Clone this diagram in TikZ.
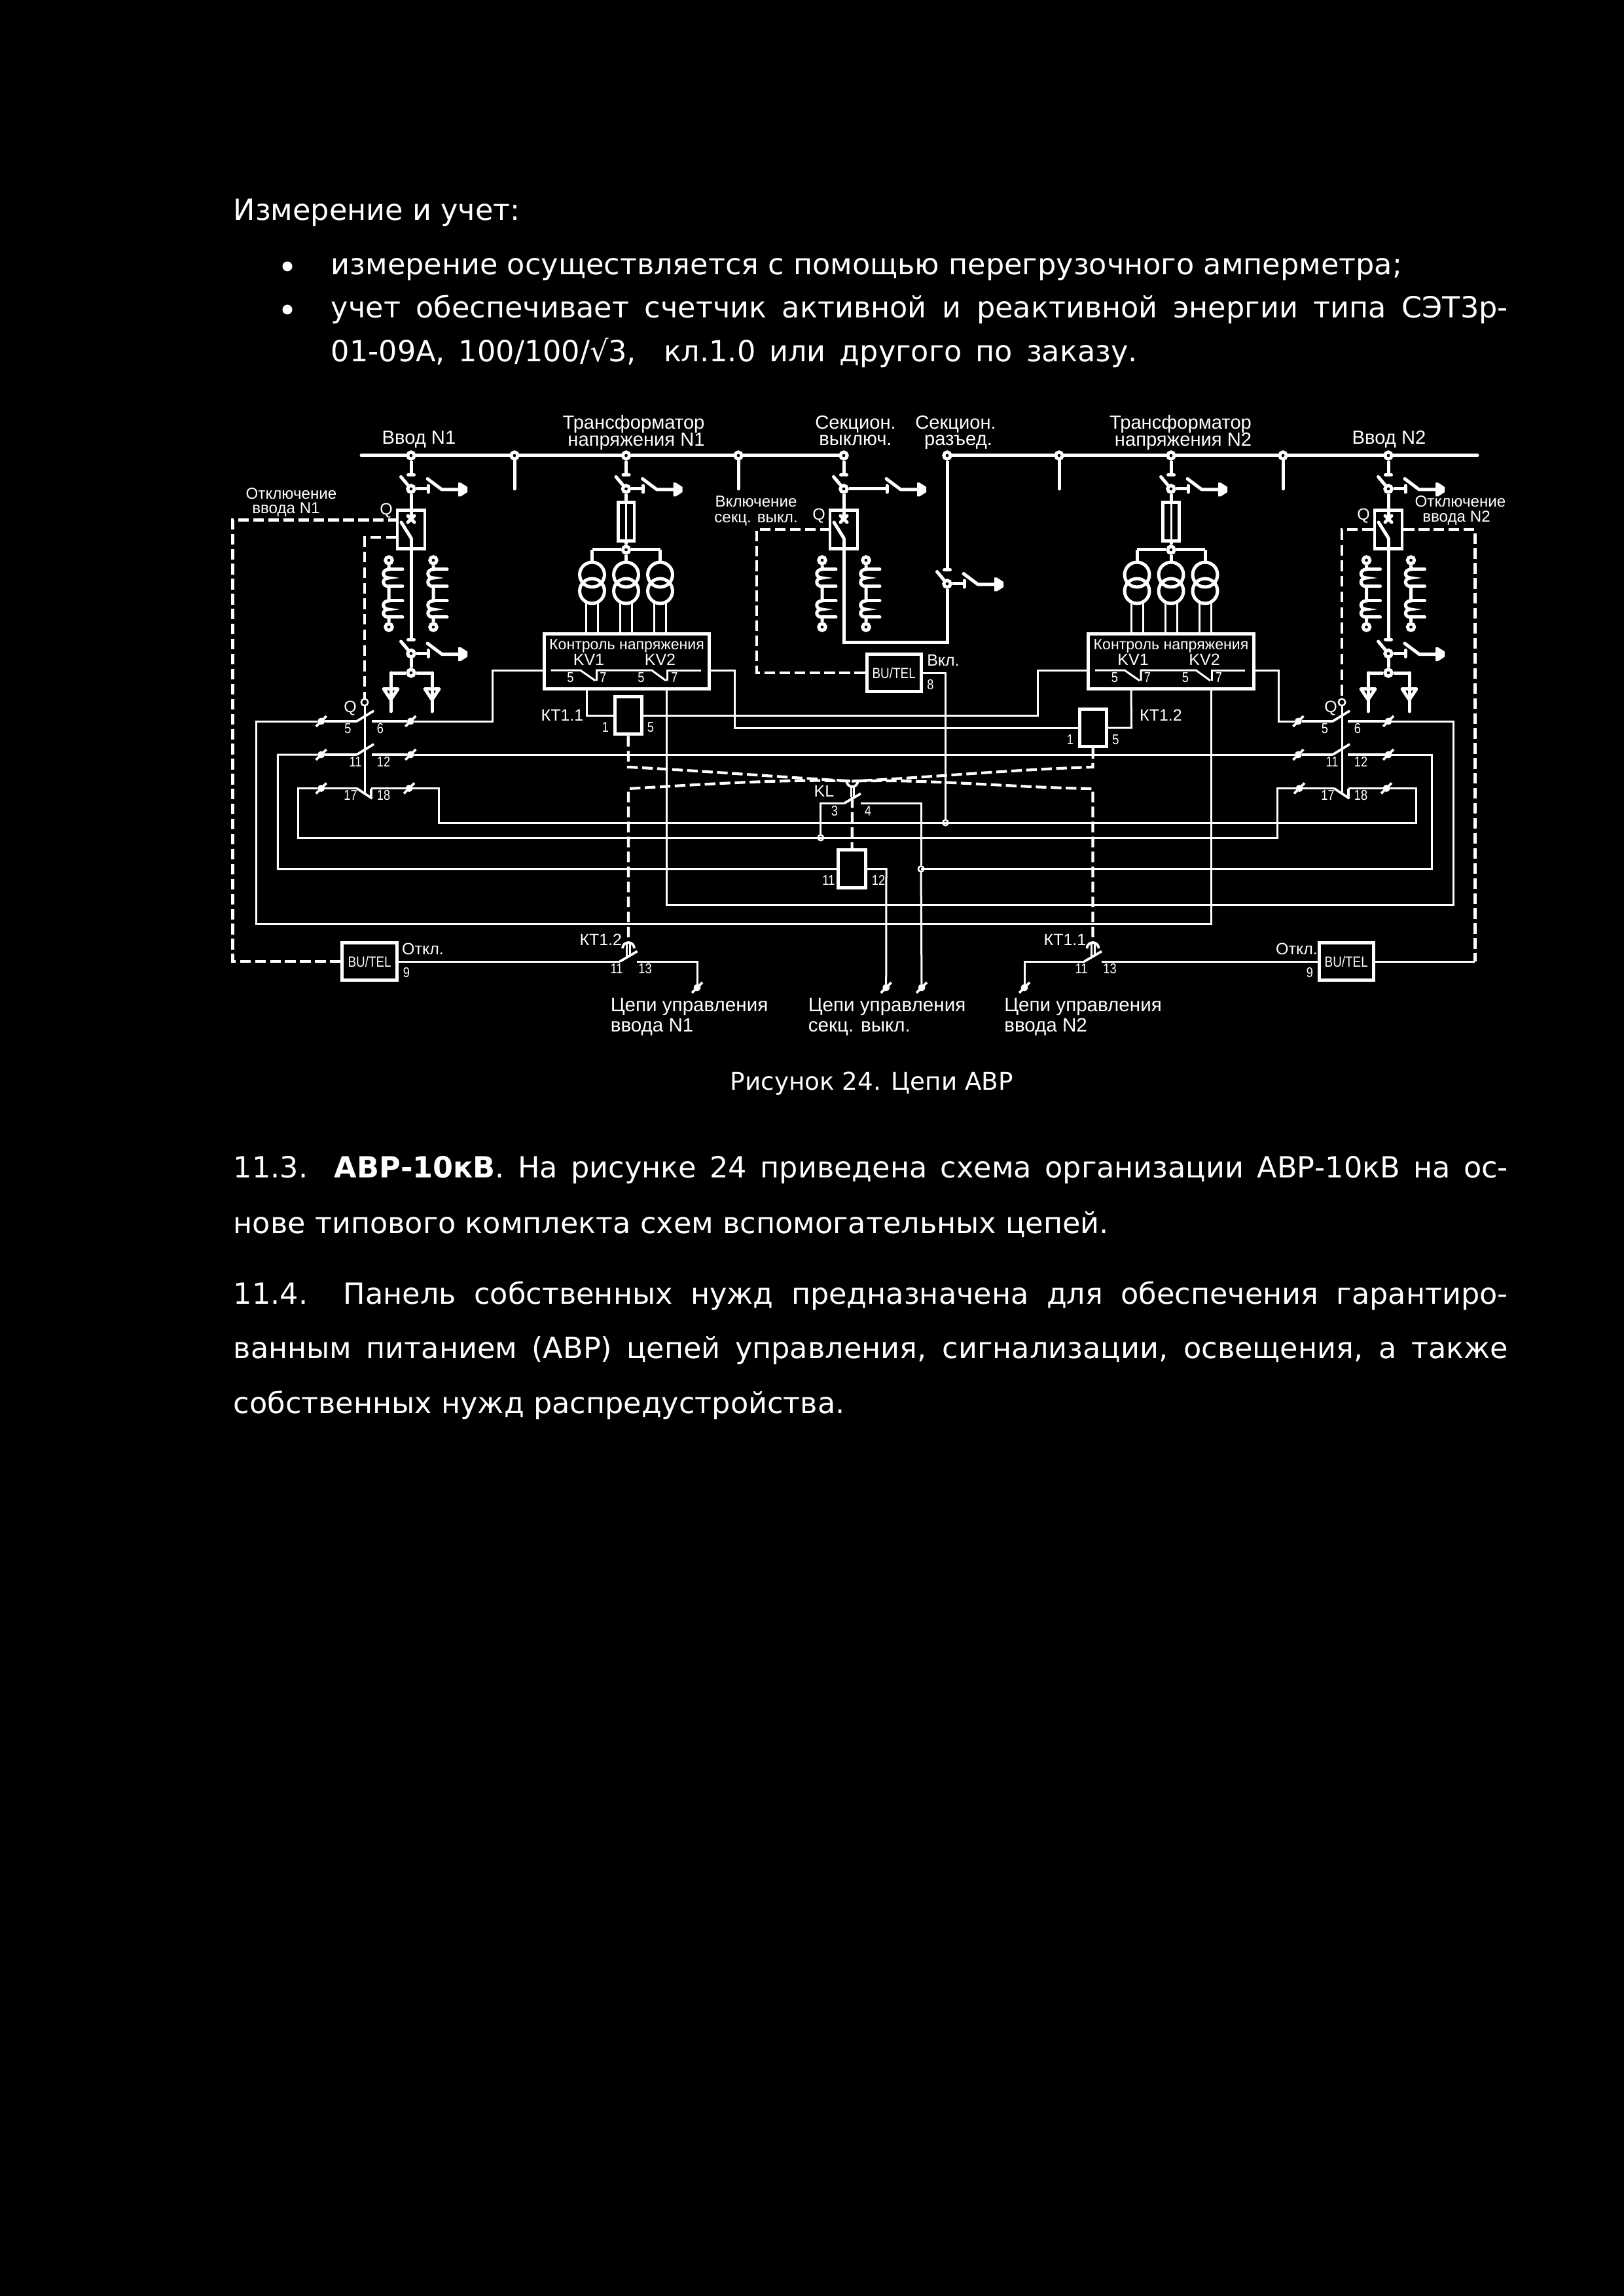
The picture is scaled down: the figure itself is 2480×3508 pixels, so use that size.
\documentclass[tikz,border=0pt]{standalone}
\usepackage{fontspec}
\usetikzlibrary{positioning, calc}
\setmainfont{Liberation Sans}
\newfontfamily\bodyfam{DejaVu Sans}
\newfontfamily\numfam[FakeStretch=0.84]{Liberation Sans}

\newcommand{\discon}[4]{
	\coordinate (#1bar) at (#2,#3);
	\node[jnct] (#1j) at (#2,#3+21.5) {};
	\coordinate (#1end) at (#2+26+#4,#3+21.5);
	\draw[heavy, line cap=round] (#2-4.5,#3) -- (#2+4.5,#3);
	\draw[heavy, line cap=round] (#2-15.5,#3+3) -- (#1j);
	\draw[heavy] (#1j) -- (#1end);
	\draw[heavy, line cap=round] (#2+26+#4,#3+16.5) -- (#2+26+#4,#3+26.5);
	\draw[heavy, line cap=round] (#2+25+#4,#3+6) -- (#2+47+#4,#3+22.5) -- (#2+74+#4,#3+22.5);
	\fill (#2+72+#4,#3+12) -- (#2+76+#4,#3+12) -- (#2+86+#4,#3+18.5) -- (#2+86+#4,#3+26.5) -- (#2+76+#4,#3+33) -- (#2+72+#4,#3+33) -- cycle;
}
\newcommand{\qbreaker}[2]{
	\node[qbox] (#1) at (#2,809) {};
	\coordinate (#1in) at (#2,793);
	\coordinate (#1out) at (#2,822);
	\draw[heavy, line cap=round] (#2-5,788) -- (#2+5,798);
	\draw[heavy, line cap=round] (#2-5,798) -- (#2+5,788);
	\draw[heavy, line cap=round] (#2-15,798) -- (#1out);
}
\newcommand{\ctcoil}[2]{
	\node[jnct] (#1a) at (#2,856) {};
	\node[jnct] (#1b) at (#2,958) {};
	\draw[coil] (#1a) -- (#2,870) .. controls (#2-11,870) and (#2-11,883) .. (#2,883) .. controls (#2-11,883) and (#2-11,896) .. (#2,896) -- (#2,918) .. controls (#2-11,918) and (#2-11,931) .. (#2,931) .. controls (#2-11,931) and (#2-11,943) .. (#2,943) -- (#1b);
	\foreach \y in {870,896,918,943}
		\draw[coil, line cap=round] (#2,\y) -- (#2+21,\y);
}
\newcommand{\outarrow}[1]{
	\draw[heavy, line cap=round] (#1,1028) -- (#1,1087);
	\draw[heavy, line join=round] (#1-11,1052.5) -- (#1+11,1052.5) -- (#1,1069) -- cycle;
}
\newcommand{\vtrans}[2]{
	\node[fuse] (#1f) at (#2,797) {};
	\node[jnct] (#1j) at (#2,840) {};
	\coordinate (#1l) at (#2-52,840);
	\coordinate (#1r) at (#2+52,840);
	\draw[wire] (#1f.north) -- (#1f.south);
	\draw[heavy] (#1f) -- (#1j);
	\foreach \n/\d in {a/-52,b/0,c/52} {
		\node[vcoil] (#1\n u) at (#2+\d,878) {};
		\node[vcoil] (#1\n d) at (#2+\d,903) {};
		\foreach \s in {-9,9}
			\draw[wire] (#2+\d+\s,921) -- (#2+\d+\s,968);
	}
	\draw[heavy] (#1l) -- (#1j);
	\draw[heavy] (#1j) -- (#1r);
	\draw[heavy] (#1l) -- (#1au.north);
	\draw[heavy] (#1r) -- (#1cu.north);
	\draw[heavy] (#1j) -- (#1bu.north);
}
\newcommand{\ctrlbox}[2]{
	\node[cbox] (#1) at (#2,1010.5) {};
	\coordinate (#1w) at (#2-128.5,1024);
	\coordinate (#1e) at (#2+128.5,1024);
	\coordinate (#1sl) at (#2-61,1055);
	\coordinate (#1sr) at (#2+61,1055);
	\node[lbls, font=\fontsize{5.55}{7}\selectfont] (#1t) at (#2,984) {Контроль напряжения};
	\node[lbls] (#1kva) at (#2-58,1008) {KV1};
	\node[lbls] (#1kvb) at (#2+51,1008) {KV2};
	\draw[wire] (#2-116,1024) -- (#2-71,1024) -- (#2-48,1040);
	\draw[wire] (#2-46,1040) -- (#2-46,1024) -- (#2+38,1024) -- (#2+60,1040);
	\draw[wire] (#2+62,1040) -- (#2+62,1024) -- (#2+113,1024);
	\foreach \d/\t in {-86/5,-36/7,22/5,73/7}
		\node[numb] (#1n\t\d) at (#2+\d,1035) {\t};
}
\newcommand{\tcontact}[2]{
	\coordinate (#1l) at (#2-13,1469);
	\coordinate (#1r) at (#2+13,1469);
	\coordinate (#1top) at (#2,1432);
	\draw[mid] (#2-9,1449) arc[start angle=180, end angle=360, radius=9];
	\draw[wire] (#2-2.5,1440) -- (#2-2.5,1461);
	\draw[wire] (#2+2.5,1440) -- (#2+2.5,1461);
	\draw[mid] (#1l) -- (#2+13.5,1453.5);
}

\begin{document}
\begin{tikzpicture}[
		x=0.24pt, y=-0.24pt, color=white,
		heavy/.style={line width=1.2pt},
		wire/.style={line width=0.72pt},
		mid/.style={line width=0.9pt},
		coil/.style={line width=1.2pt},
		dashbig/.style={line width=1pt, dash pattern=on 3.9pt off 1.6pt},
		dashsmall/.style={line width=0.75pt, dash pattern=on 3.9pt off 1.8pt},
		jnct/.style={circle, draw, fill=black, line width=1.2pt, inner sep=0pt, minimum size=2.5pt},
		dotj/.style={circle, draw, fill=black, line width=0.6pt, inner sep=0pt, minimum size=2pt},
		qcirc/.style={circle, draw, line width=0.6pt, inner sep=0pt, minimum size=2.5pt},
		term/.style={circle, draw, fill=black, line width=0.95pt, inner sep=0pt, minimum size=1.6pt},
		qbox/.style={rectangle, draw, line width=1.1pt, inner sep=0pt, minimum width=10.1pt, minimum height=14.2pt},
		fuse/.style={rectangle, draw, line width=1.1pt, inner sep=0pt, minimum width=5.9pt, minimum height=14.2pt},
		vcoil/.style={circle, draw, line width=1.2pt, inner sep=0pt, minimum size=9.1pt},
		cbox/.style={rectangle, draw, line width=1.2pt, inner sep=0pt, minimum width=60.6pt, minimum height=20.2pt},
		relay/.style={rectangle, draw, line width=1.2pt, inner sep=0pt, minimum width=9.9pt, minimum height=13.7pt},
		butel/.style={rectangle, draw, line width=1.2pt, inner sep=0pt, minimum width=20pt, minimum height=13.8pt, font=\numfam\fontsize{5.4}{6}\selectfont},
		lbl/.style={inner sep=0pt, text height=5pt, text depth=0pt, font=\fontsize{7}{8}\selectfont},
		lbls/.style={inner sep=0pt, text height=4.3pt, text depth=0pt, font=\fontsize{6}{7}\selectfont},
		lblo/.style={inner sep=0pt, text height=4.2pt, text depth=0pt, font=\fontsize{5.8}{7}\selectfont},
		numb/.style={inner sep=0pt, text height=3.7pt, text depth=0pt, font=\numfam\fontsize{5.2}{6}\selectfont},
		bodyl/.style={anchor=base west, inner sep=0pt, font=\bodyfam\fontsize{10.7}{13}\selectfont},
		capl/.style={anchor=base west, inner sep=0pt, font=\bodyfam\fontsize{8.95}{12}\selectfont}
	]

	\useasboundingbox (0,0) rectangle (2480,3508);
	\fill[black] (-20,-20) rectangle (2500,3528);

	% text above and below the scheme
	\foreach \x/\y/\t [count=\i] in {
		356/337/{Измерение и учет:},
		505/420/{измерение осуществляется с помощью перегрузочного амперметра;},
		356/1884/{нове типового комплекта схем вспомогательных цепей.},
		356/2159/{собственных нужд распредустройства.}}
		\node[bodyl] (para\i) at (\x,\y) {\t};
	\node[bodyl] (para5) at (505,553) {\makebox[295.7pt][s]{01-09А, 100/100/√3,\ \ кл.1.0 или другого по заказу.}};
	\node[bodyl] (para6) at (505,486) {\makebox[431.5pt][s]{учет обеспечивает счетчик активной и реактивной энергии типа СЭТ3р-}};
	\node[bodyl] (para7) at (356,1799) {\makebox[467.3pt][s]{11.3.\ \ {\bfseries АВР-10кВ}. На рисунке 24 приведена схема организации АВР-10кВ на ос-}};
	\node[bodyl] (para8) at (356,1992) {\makebox[467.3pt][s]{11.4.\ \ Панель собственных нужд предназначена для обеспечения гарантиро-}};
	\node[bodyl] (para9) at (356,2075) {\makebox[467.3pt][s]{ванным питанием (АВР) цепей управления, сигнализации, освещения, а также}};
	\node[capl] (caption) at (1115,1665) {Рисунок 24. Цепи АВР};
	\foreach \y [count=\i] in {407,473}
		\fill (439,\y) circle[radius=7.5];

	% busbars
	\coordinate (busl) at (552,696);
	\coordinate (busr) at (2257,696);
	\foreach \n/\x in {jina/628, jcab/786, jtva/956.5, jcbc/1128, jsv/1289, jsr/1447, jccd/1618, jtvb/1789, jcde/1960, jinb/2121}
		\node[jnct] (\n) at (\x,696) {};
	\foreach \i/\j in {busl/jina, jina/jcab, jcab/jtva, jtva/jcbc, jcbc/jsv, jsr/jccd, jccd/jtvb, jtvb/jcde, jcde/jinb, jinb/busr}
		\draw[heavy, line cap=round] (\i) -- (\j);
	\foreach \n/\x in {jcab/786, jcbc/1128, jccd/1618, jcde/1960} {
		\coordinate (\n e) at (\x,747);
		\draw[heavy, line cap=round] (\n) -- (\n e);
	}

	% disconnectors, breakers, current transformers
	\discon{dia}{628}{725.5}{0}
	\discon{dib}{628}{977}{0}
	\discon{dic}{2121}{725.5}{0}
	\discon{did}{2121}{977}{0}
	\discon{dis}{1289}{725.5}{40}
	\discon{dir}{1447}{870.5}{0}
	\discon{dit}{956.5}{725.5}{0}
	\discon{diu}{1789}{725.5}{0}
	\foreach \i/\j in {jina/diabar, jinb/dicbar, jsv/disbar, jsr/dirbar, jtva/ditbar, jtvb/diubar}
		\draw[heavy] (\i) -- (\j);

	\qbreaker{qa}{628}
	\qbreaker{qs}{1289}
	\qbreaker{qb}{2121}
	\foreach \i/\j in {diaj/qain, qaout/dibbar, dicj/qbin, qbout/didbar, disj/qsin}
		\draw[heavy] (\i) -- (\j);
	\coordinate (scl) at (1289,981.5);
	\coordinate (srl) at (1447,981.5);
	\draw[heavy] (qsout) -- (scl) -- (srl) -- (dirj);

	\foreach \n/\x in {cta/594, ctb/662, ctc/1256, ctd/1323, cte/2087.5, ctf/2155.5} {
		\ctcoil{\n}{\x}
	}

	\foreach \n/\m/\x in {oja/dibj/628, ojb/didj/2121} {
		\node[jnct] (\n) at (\x,1028) {};
		\draw[heavy] (\m) -- (\n);
		\draw[heavy] (\n) -- (\x-31,1028);
		\draw[heavy] (\n) -- (\x+32,1028);
		\outarrow{\x-31}
		\outarrow{\x+32}
	}

	% voltage transformers and control boxes
	\vtrans{tva}{956.5}
	\vtrans{tvb}{1789}
	\foreach \i/\j in {ditj/tvaf, diuj/tvbf}
		\draw[heavy] (\i) -- (\j);
	\ctrlbox{cva}{957.5}
	\ctrlbox{cvb}{1789}

	% relays and units
	\node[relay] (kta) at (959.7,1093.3) {};
	\node[relay] (ktb) at (1669.7,1112) {};
	\node[relay, minimum height=14pt] (klc) at (1301.6,1327.7) {};
	\node[butel] (bua) at (564.6,1469) {BU/TEL};
	\node[butel] (bus) at (1365.7,1028) {BU/TEL};
	\node[butel] (bub) at (2056.7,1469) {BU/TEL};

	% terminals
	\foreach \n/\x/\y in {tla/490.7/1102, tlb/627.3/1102, tlc/490.7/1153, tld/627.3/1153, tle/490.7/1204.5, tlf/625/1204.5, tra/1983.4/1102, trb/2121/1102, trc/1983.4/1153, trd/2121/1153, tre/1985/1204.5, trf/2118/1204.5, tca/1065/1509, tcb/1353.7/1509, tcc/1408/1509, tcd/1565/1509} {
		\node[term] (\n) at (\x,\y) {};
		\draw[mid] ([shift={(-8,8)}]\n.center) -- ([shift={(8,-8)}]\n.center);
	}

	% auxiliary contacts of Q
	\foreach \n/\x/\y in {qma/545/1102, qna/545/1153, qmb/2036/1102, qnb/2036/1153} {
		\coordinate (\n l) at (\x,\y);
		\coordinate (\n r) at (\x+23,\y);
		\draw[mid] (\n l) -- (\x+26,\y-16);
	}
	\foreach \n/\x/\y in {qoa/545/1204.5, qob/2038/1204.5} {
		\coordinate (\n l) at (\x,\y);
		\coordinate (\n r) at (\x+22,\y);
		\draw[mid] (\n l) -- (\x+23.5,\y+15.5);
		\draw[mid] (\n r) -- (\x+22,\y+12);
	}
	\foreach \i/\j in {tla/qmal, tlb/qmar, tlc/qnal, tld/qnar, tle/qoal, tlf/qoar, tra/qmbl, trb/qmbr, trc/qnbl, trd/qnbr, tre/qobl, trf/qobr}
		\draw[mid] (\i) -- (\j);

	\node[qcirc] (qca) at (557,1073) {};
	\node[qcirc] (qcb) at (2050,1073) {};
	\coordinate (qea) at (557,1212);
	\coordinate (qeb) at (2050,1212);
	\foreach \i/\j in {qca/qea, qcb/qeb}
		\draw[wire] (\i) -- (\j);

	% contact of KL and time contacts
	\coordinate (kcup) at (1302,1193.5);
	\coordinate (kll) at (1289.4,1227.5);
	\coordinate (klr) at (1315,1227.5);
	\draw[mid] (1293.5,1193.5) arc[start angle=180, end angle=0, radius=8.5];
	\draw[wire] (1300,1202) -- (1300,1218);
	\draw[wire] (1304,1202) -- (1304,1218);
	\draw[mid] (kll) -- (1315,1212.5);
	\tcontact{kma}{960}
	\tcontact{kmb}{1669.5}

	\node[dotj] (jka) at (1253.8,1280) {};
	\node[dotj] (jkb) at (1444.4,1257) {};
	\node[dotj] (jkc) at (1407,1327.5) {};

	% control wiring
	\draw[wire] (tla) -- (391,1102) -- (391,1411) -- (1850,1411) -- (cvbsr);
	\draw[wire] (tlb) -- (752.6,1102) -- (752.6,1024) -- (cvaw);
	\draw[wire] (cvasl) -- (896.5,1093.3) -- (kta.west);
	\draw[wire] (kta.east) -- (1585,1093.3) -- (1585,1024) -- (cvbw);
	\draw[wire] (cvae) -- (1122,1024) -- (1122,1112) -- (ktb.west);
	\draw[wire] (ktb.east) -- (1728.5,1112) -- (cvbsl);
	\draw[wire] (cvasr) -- (1018.5,1382.5) -- (2220.7,1382.5) -- (2220.7,1102) -- (trb);
	\draw[wire] (tld) -- (trc);
	\draw[wire] (tlc) -- (424.4,1153) -- (424.4,1327.5) -- (klc.west);
	\draw[wire] (klc.east) -- (1354,1327.7) -- (tcb);
	\draw[wire] (trd) -- (2187.7,1153) -- (2187.7,1327.5) -- (jkc.center);
	\draw[wire] (klr) -- (1407,1227.5) -- (jkc);
	\draw[wire] (jkc) -- (tcc);
	\draw[wire] (tle) -- (455,1204.5) -- (455,1280) -- (1951,1280) -- (1951,1204.5) -- (tre);
	\draw[wire] (jka) -- (1253.8,1227.5) -- (kll);
	\draw[wire] (tlf) -- (670,1204.5) -- (670,1257) -- (2163.4,1257) -- (2163.4,1204.5) -- (trf);
	\draw[wire] (bus.east) -- (1444.4,1028) -- (jkb);
	\draw[wire] (cvbe) -- (1953.5,1024) -- (1953.5,1102) -- (tra);
	\draw[wire] (bua.east) -- (kmal);
	\draw[wire] (kmar) -- (1065,1469) -- (tca);
	\draw[wire] (tcd) -- (1565,1469) -- (kmbl);
	\draw[wire] (kmbr) -- (bub.west);
	\draw[wire] (bub.east) -- (2253.4,1469);

	% dashed links
	\coordinate (qpa) at (606,794.5);
	\coordinate (qpb) at (606,821);
	\draw[dashbig] (bua.west) -- (355.5,1469) -- (355.5,794.5) -- (qpa);
	\draw[dashsmall] (qpb) -- (557,821) -- (qca);
	\draw[dashbig] (bus.west) -- (1156,1028) -- (1156,809) -- (qs.west);
	\draw[dashbig] (qb.east) -- (2253.4,809) -- (2253.4,1469);
	\draw[dashsmall] (qb.west) -- (2050,809) -- (qcb);
	\draw[dashbig] (kta.south) -- (960,1172) .. controls (1080,1178) and (1200,1188) .. (kcup);
	\draw[dashbig] (ktb.south) -- (1669.5,1172) .. controls (1540,1176) and (1420,1188) .. (kcup);
	\draw[dashbig] (kmatop) -- (960,1205) .. controls (1080,1198) and (1200,1190) .. (kcup);
	\draw[dashbig] (kmbtop) -- (1669.5,1205) .. controls (1540,1203) and (1420,1190) .. (kcup);
	\coordinate (kdash) at (1302,1218);
	\draw[dashbig] (kdash) -- (klc.north);

	% labels
	\foreach \x/\y/\t [count=\i] in {
		640/668/{Ввод N1}, 968/645/{Трансформатор}, 972/671/{напряжения N1},
		1307/645/{Секцион.}, 1307/670/{выключ.}, 1460/645/{Секцион.}, 1464/670/{разъед.},
		1803.5/645/{Трансформатор}, 1807.5/671/{напряжения N2}, 2122/668/{Ввод N2}}
		\node[lbl] (top\i) at (\x,\y) {\t};
	\foreach \x/\y/\t [count=\i] in {
		445/754/{Отключение}, 437/776/{ввода N1}, 1155/766/{Включение}, 1155/790/{секц. выкл.},
		2231/766/{Отключение}, 2225/789/{ввода N2}}
		\node[lblo] (off\i) at (\x,\y) {\t};
	\foreach \x/\y/\t [count=\i] in {
		590/778/Q, 1251/786/Q, 2083/786/Q, 535/1080/Q, 2033/1080/Q,
		859/1093/{КТ1.1}, 1773.5/1093/{КТ1.2}, 1259/1208.5/KL,
		917.8/1435.5/{КТ1.2}, 1627/1435.5/{КТ1.1}, 646/1450/{Откл.}, 1981/1450/{Откл.}, 1441/1009/{Вкл.}}
		\node[lbls] (sym\i) at (\x,\y) {\t};
	\foreach \x/\y/\t [count=\i] in {
		531.5/1112.5/5, 581/1112.5/6, 543/1164/11, 586/1164/12, 535.5/1215/17, 586/1215/18,
		2024/1112.5/5, 2074/1112.5/6, 2035/1164/11, 2079/1164/12, 2028.5/1215/17, 2079/1215/18,
		925/1110.5/1, 994/1110.5/5, 1635/1129.5/1, 1704.5/1129.5/5,
		1275/1239/3, 1326/1239/4, 1265.7/1345/11, 1342/1345/12,
		942/1480/11, 985.5/1480/13, 1652/1480/11, 1695.5/1480/13,
		621/1486/9, 2001/1486/9, 1421.5/1045.5/8}
		\node[numb] (num\i) at (\x,\y) {\t};
	\foreach \x/\y/\t [count=\i] in {
		932/1535/{Цепи управления}, 932/1566/{ввода N1},
		1234/1535/{Цепи управления}, 1234/1566/{секц. выкл.},
		1533.5/1535/{Цепи управления}, 1533.5/1566/{ввода N2}}
		\node[lbl, anchor=west, font=\fontsize{7.1}{8}\selectfont] (ctl\i) at (\x,\y) {\t};

\end{tikzpicture}
\end{document}
